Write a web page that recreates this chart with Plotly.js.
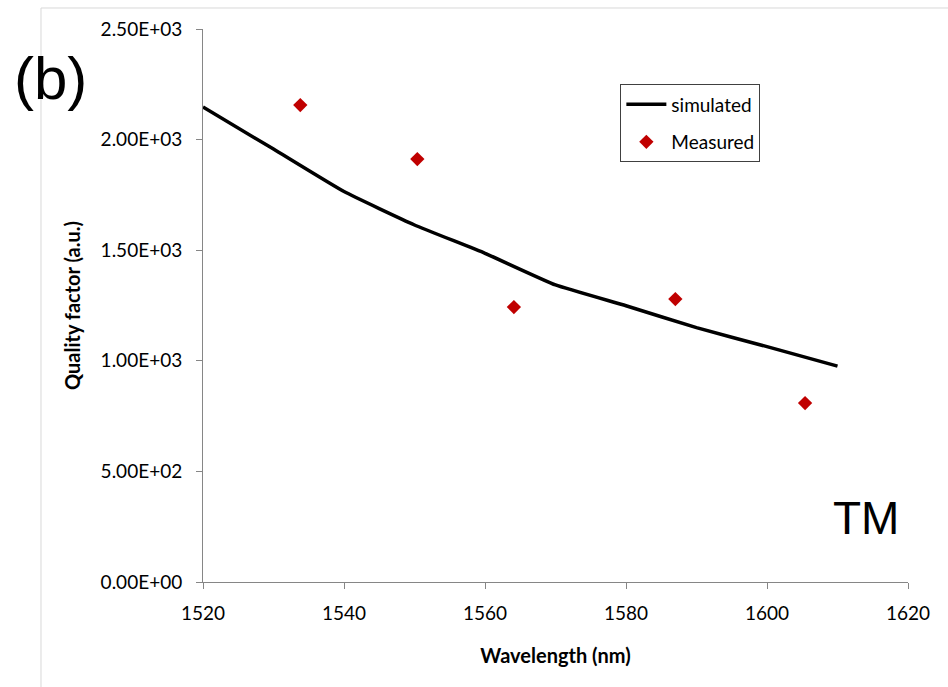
<!DOCTYPE html>
<html>
<head>
<meta charset="utf-8">
<script src="https://cdn.plot.ly/plotly-3.0.1.min.js"></script>
<style>html,body{margin:0;padding:0;background:#fff;}#chart{width:948px;height:687px;}</style>
</head>
<body>
<div id="chart"></div>
<script>
const simWavelength = [1520, 1530, 1540, 1550, 1560, 1570, 1580, 1590, 1600, 1610];
const simQ = [2147, 1957, 1765, 1614, 1486, 1343, 1249, 1150, 1064, 976];
const measWavelength = [1533.8, 1550.4, 1564.1, 1587.0, 1605.4];
const measQ = [2156, 1912, 1243, 1279, 809];
const xTicks = [1520, 1540, 1560, 1580, 1600, 1620];
const yTicks = [0, 500, 1000, 1500, 2000, 2500];
const yTickText = ["0.00E+00", "5.00E+02", "1.00E+03", "1.50E+03", "2.00E+03", "2.50E+03"];

const font = "Lato, 'Open Sans', sans-serif";
const traces = [
  {x: simWavelength, y: simQ, mode: 'lines', name: 'simulated', legendgroup: 'a',
   line: {color: '#000000', width: 3.5, shape: 'spline', smoothing: 0.4}},
  {x: measWavelength, y: measQ, mode: 'markers', name: 'Measured', legendgroup: 'b',
   marker: {symbol: 'diamond', color: '#c00000', size: 11}}
];
const layout = {
  width: 948, height: 687,
  margin: {l: 203, r: 40, t: 29, b: 105},
  paper_bgcolor: '#ffffff', plot_bgcolor: '#ffffff',
  showlegend: true,
  legend: {x: 0.592, y: 0.90, xanchor: 'left', yanchor: 'top',
    bordercolor: '#404040', borderwidth: 1, bgcolor: '#ffffff',
    font: {family: font, size: 19, color: '#000'}, tracegroupgap: 10, itemwidth: 40},
  xaxis: {range: [1520, 1620], tickvals: xTicks, ticktext: xTicks.map(String),
    showgrid: false, zeroline: false, showline: true, linecolor: '#868686', linewidth: 1,
    ticks: 'outside', ticklen: 6, tickcolor: '#868686', ticklabelstandoff: 8,
    tickfont: {family: font, size: 19, color: '#000'},
    title: {text: '<b>Wavelength (nm)</b>', font: {family: font, size: 20, color: '#000'}, standoff: 26}},
  yaxis: {range: [0, 2500], tickvals: yTicks, ticktext: yTickText,
    showgrid: false, zeroline: false, showline: true, linecolor: '#868686', linewidth: 1,
    ticks: 'outside', ticklen: 6, tickcolor: '#868686', ticklabelstandoff: 10,
    tickfont: {family: font, size: 19, color: '#000'},
    title: {text: '<b>Quality factor (a.u.)</b>', font: {family: font, size: 20, color: '#000'}, standoff: 14}},
  shapes: [
    {type: 'rect', xref: 'paper', yref: 'paper', x0: -0.2298, x1: 1.2, y0: -0.4, y1: 1.038,
     line: {color: '#d9d9d9', width: 1}, fillcolor: 'rgba(0,0,0,0)', layer: 'below'}
  ],
  annotations: [
    {text: '(b)', xref: 'paper', yref: 'paper', x: (50 - 203) / 705, y: (582 - 78) / 553,
     xanchor: 'center', yanchor: 'middle', showarrow: false,
     font: {family: 'Liberation Sans, Arial, sans-serif', size: 60, color: '#000'}},
    {text: 'TM', xref: 'paper', yref: 'paper', x: (866 - 203) / 705, y: (582 - 518) / 553,
     xanchor: 'center', yanchor: 'middle', showarrow: false,
     font: {family: 'Liberation Sans, Arial, sans-serif', size: 46, color: '#000'}}
  ]
};
Plotly.newPlot('chart', traces, layout, {displayModeBar: false});
</script>
</body>
</html>
